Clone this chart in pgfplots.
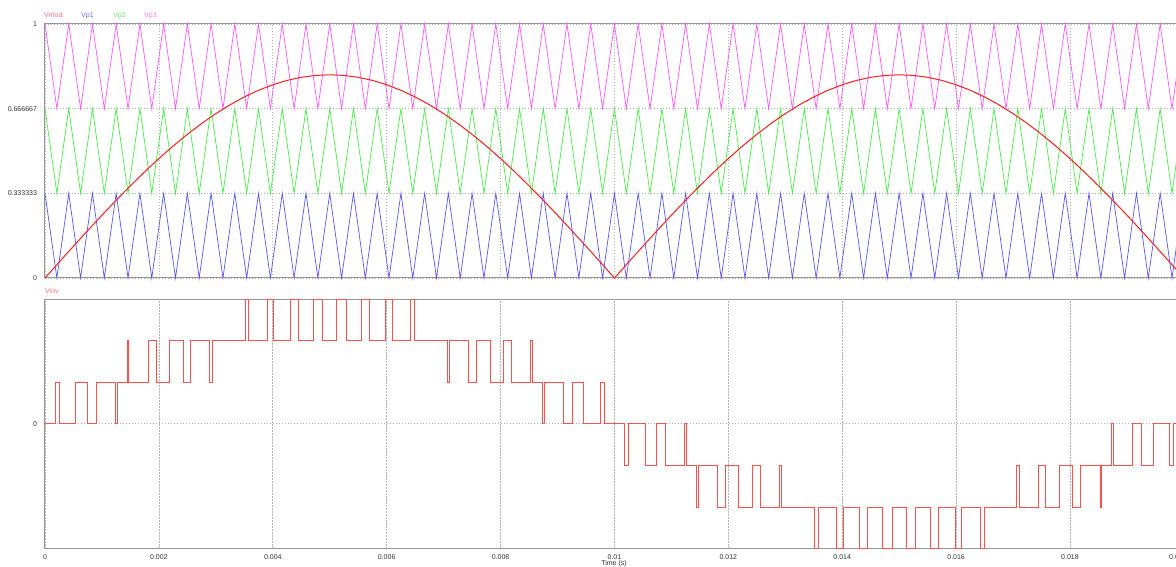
\documentclass[border=0pt]{standalone}
\usepackage{fontspec}
\setmainfont{Liberation Sans}
\usepackage{pgfplots}
\usepackage{pgfplotstable}
\pgfplotsset{compat=1.18}
\definecolor{cmod}{RGB}{255,30,30}
\definecolor{cp1}{RGB}{85,85,255}
\definecolor{cp2}{RGB}{70,235,70}
\definecolor{cp3}{RGB}{255,85,255}
\definecolor{cinv}{RGB}{255,80,80}
\definecolor{lmod}{RGB}{255,110,110}
\definecolor{lp1}{RGB}{110,110,255}
\definecolor{lp2}{RGB}{110,230,110}
\definecolor{lp3}{RGB}{255,120,255}
\definecolor{framec}{RGB}{150,150,150}
\definecolor{gridc}{RGB}{180,180,180}

\pgfplotstableread{
t p1 p2 p3
0 0.333333 0.666667 1
0.0002083 0 0.333333 0.666667
0.0004167 0.333333 0.666667 1
0.000625 0 0.333333 0.666667
0.0008333 0.333333 0.666667 1
0.0010417 0 0.333333 0.666667
0.00125 0.333333 0.666667 1
0.0014583 0 0.333333 0.666667
0.0016667 0.333333 0.666667 1
0.001875 0 0.333333 0.666667
0.0020833 0.333333 0.666667 1
0.0022917 0 0.333333 0.666667
0.0025 0.333333 0.666667 1
0.0027083 0 0.333333 0.666667
0.0029167 0.333333 0.666667 1
0.003125 0 0.333333 0.666667
0.0033333 0.333333 0.666667 1
0.0035417 0 0.333333 0.666667
0.00375 0.333333 0.666667 1
0.0039583 0 0.333333 0.666667
0.0041667 0.333333 0.666667 1
0.004375 0 0.333333 0.666667
0.0045833 0.333333 0.666667 1
0.0047917 0 0.333333 0.666667
0.005 0.333333 0.666667 1
0.0052083 0 0.333333 0.666667
0.0054167 0.333333 0.666667 1
0.005625 0 0.333333 0.666667
0.0058333 0.333333 0.666667 1
0.0060417 0 0.333333 0.666667
0.00625 0.333333 0.666667 1
0.0064583 0 0.333333 0.666667
0.0066667 0.333333 0.666667 1
0.006875 0 0.333333 0.666667
0.0070833 0.333333 0.666667 1
0.0072917 0 0.333333 0.666667
0.0075 0.333333 0.666667 1
0.0077083 0 0.333333 0.666667
0.0079167 0.333333 0.666667 1
0.008125 0 0.333333 0.666667
0.0083333 0.333333 0.666667 1
0.0085417 0 0.333333 0.666667
0.00875 0.333333 0.666667 1
0.0089583 0 0.333333 0.666667
0.0091667 0.333333 0.666667 1
0.009375 0 0.333333 0.666667
0.0095833 0.333333 0.666667 1
0.0097917 0 0.333333 0.666667
0.01 0.333333 0.666667 1
0.0102083 0 0.333333 0.666667
0.0104167 0.333333 0.666667 1
0.010625 0 0.333333 0.666667
0.0108333 0.333333 0.666667 1
0.0110417 0 0.333333 0.666667
0.01125 0.333333 0.666667 1
0.0114583 0 0.333333 0.666667
0.0116667 0.333333 0.666667 1
0.011875 0 0.333333 0.666667
0.0120833 0.333333 0.666667 1
0.0122917 0 0.333333 0.666667
0.0125 0.333333 0.666667 1
0.0127083 0 0.333333 0.666667
0.0129167 0.333333 0.666667 1
0.013125 0 0.333333 0.666667
0.0133333 0.333333 0.666667 1
0.0135417 0 0.333333 0.666667
0.01375 0.333333 0.666667 1
0.0139583 0 0.333333 0.666667
0.0141667 0.333333 0.666667 1
0.014375 0 0.333333 0.666667
0.0145833 0.333333 0.666667 1
0.0147917 0 0.333333 0.666667
0.015 0.333333 0.666667 1
0.0152083 0 0.333333 0.666667
0.0154167 0.333333 0.666667 1
0.015625 0 0.333333 0.666667
0.0158333 0.333333 0.666667 1
0.0160417 0 0.333333 0.666667
0.01625 0.333333 0.666667 1
0.0164583 0 0.333333 0.666667
0.0166667 0.333333 0.666667 1
0.016875 0 0.333333 0.666667
0.0170833 0.333333 0.666667 1
0.0172917 0 0.333333 0.666667
0.0175 0.333333 0.666667 1
0.0177083 0 0.333333 0.666667
0.0179167 0.333333 0.666667 1
0.018125 0 0.333333 0.666667
0.0183333 0.333333 0.666667 1
0.0185417 0 0.333333 0.666667
0.01875 0.333333 0.666667 1
0.0189583 0 0.333333 0.666667
0.0191667 0.333333 0.666667 1
0.019375 0 0.333333 0.666667
0.0195833 0.333333 0.666667 1
0.0197917 0 0.333333 0.666667
0.02 0.333333 0.666667 1
}\carriers

\pgfplotstableread{
t v
0 0
0.00025 0.0628
0.0005 0.1251
0.00075 0.1868
0.001 0.2472
0.00125 0.3062
0.0015 0.3632
0.00175 0.4180
0.002 0.4702
0.00225 0.5196
0.0025 0.5657
0.00275 0.6083
0.003 0.6472
0.00325 0.6821
0.0035 0.7128
0.00375 0.7391
0.004 0.7608
0.00425 0.7779
0.0045 0.7902
0.00475 0.7975
0.005 0.8
0.00525 0.7975
0.0055 0.7902
0.00575 0.7779
0.006 0.7608
0.00625 0.7391
0.0065 0.7128
0.00675 0.6821
0.007 0.6472
0.00725 0.6083
0.0075 0.5657
0.00775 0.5196
0.008 0.4702
0.00825 0.4180
0.0085 0.3632
0.00875 0.3062
0.009 0.2472
0.00925 0.1868
0.0095 0.1251
0.00975 0.0628
0.01 0
0.01025 0.0628
0.0105 0.1251
0.01075 0.1868
0.011 0.2472
0.01125 0.3062
0.0115 0.3632
0.01175 0.4180
0.012 0.4702
0.01225 0.5196
0.0125 0.5657
0.01275 0.6083
0.013 0.6472
0.01325 0.6821
0.0135 0.7128
0.01375 0.7391
0.014 0.7608
0.01425 0.7779
0.0145 0.7902
0.01475 0.7975
0.015 0.8
0.01525 0.7975
0.0155 0.7902
0.01575 0.7779
0.016 0.7608
0.01625 0.7391
0.0165 0.7128
0.01675 0.6821
0.017 0.6472
0.01725 0.6083
0.0175 0.5657
0.01775 0.5196
0.018 0.4702
0.01825 0.4180
0.0185 0.3632
0.01875 0.3062
0.019 0.2472
0.01925 0.1868
0.0195 0.1251
0.01975 0.0628
0.02 0
}\vmod

\pgfplotstableread{
t v
0 0
0.00018006 1
0.00024708 0
0.00054054 1
0.00074017 0
0.00090194 1
0.00123008 0
0.00126488 1
0.00144713 2
0.00147321 1
0.00181373 2
0.00195463 1
0.00218346 2
0.00242871 1
0.00255700 2
0.00289446 1
0.00293498 2
0.00351208 3
0.00357565 2
0.00390452 3
0.00401785 2
0.00430381 3
0.00445067 2
0.00471065 3
0.00487435 2
0.00512565 3
0.00528935 2
0.00554933 3
0.00569619 2
0.00598215 3
0.00609548 2
0.00642435 3
0.00648792 2
0.00706502 1
0.00710554 2
0.00744300 1
0.00757129 2
0.00781654 1
0.00804537 2
0.00818627 1
0.00852679 2
0.00855288 1
0.00873513 0
0.00876992 1
0.00909806 0
0.00925983 1
0.00945946 0
0.00975292 1
0.00981994 0
0.01018006 -1
0.01024708 0
0.01054054 -1
0.01074017 0
0.01090194 -1
0.01123008 0
0.01126488 -1
0.01144713 -2
0.01147321 -1
0.01181373 -2
0.01195463 -1
0.01218346 -2
0.01242871 -1
0.01255700 -2
0.01289446 -1
0.01293498 -2
0.01351208 -3
0.01357565 -2
0.01390452 -3
0.01401785 -2
0.01430381 -3
0.01445067 -2
0.01471065 -3
0.01487435 -2
0.01512565 -3
0.01528935 -2
0.01554933 -3
0.01569619 -2
0.01598215 -3
0.01609548 -2
0.01642435 -3
0.01648792 -2
0.01706502 -1
0.01710554 -2
0.01744300 -1
0.01757129 -2
0.01781654 -1
0.01804537 -2
0.01818627 -1
0.01852679 -2
0.01855288 -1
0.01873513 0
0.01876992 -1
0.01909806 0
0.01925983 -1
0.01945946 0
0.01975292 -1
0.01981994 0
0.02 0
}\vinv

\pgfplotsset{psim/.style={
  scale only axis, width=1138.9pt, xmin=0, xmax=0.02,
  xtick={0,0.002,0.004,0.006,0.008,0.01,0.012,0.014,0.016,0.018,0.02},
  scaled x ticks=false, scaled y ticks=false,
  major tick length=0pt,
  axis line style={framec, line width=1pt},
  grid=major,
  grid style={gridc, line width=0.7pt, dash pattern=on 1.2pt off 1.8pt},
  tick label style={font=\fontsize{7}{8}\selectfont, text=black!80},
  yticklabel style={xshift=-4.5pt},
  xticklabel style={yshift=-3pt},
  clip=false,
  anchor=south west,
}}

\begin{document}
\begin{tikzpicture}
\begin{axis}[psim, at={(45pt,288pt)}, height=254pt,
  ymin=0, ymax=1,
  ytick={0,0.333333,0.666667,1},
  yticklabels={0,0.333333,0.666667,1},
  xticklabels={,,,,,,,,,,}]
\addplot[cp1, line width=0.7pt] table[x=t, y=p1]{\carriers};
\addplot[cp2, line width=0.7pt] table[x=t, y=p2]{\carriers};
\addplot[cp3, line width=0.7pt] table[x=t, y=p3]{\carriers};
\addplot[cmod, line width=1pt] table[x=t, y=v]{\vmod};
\end{axis}
\begin{axis}[psim, at={(45pt,17.5pt)}, height=249.5pt,
  ymin=-3, ymax=3,
  ytick={0}, yticklabels={0},
  xticklabels={0,0.002,0.004,0.006,0.008,0.01,0.012,0.014,0.016,0.018,}]
\addplot[cinv, const plot, line width=0.8pt] table[x=t, y=v]{\vinv};
\end{axis}
\begin{scope}[every node/.style={inner sep=0pt, font=\fontsize{7}{8}\selectfont}]
\node[anchor=west, text=lmod] at (44pt,550.5pt) {Vmod};
\node[anchor=west, text=lp1] at (81pt,550.5pt) {Vp1};
\node[anchor=west, text=lp2] at (113pt,550.5pt) {Vp2};
\node[anchor=west, text=lp3] at (144pt,550.5pt) {Vp3};
\node[anchor=west, text=lmod] at (45pt,275pt) {Vinv};
\node[text=black!80] at (1176pt,8.5pt) {0.02};
\node[text=black!80] at (614pt,2.5pt) {Time (s)};
\end{scope}
\pgfresetboundingbox
\useasboundingbox (0pt,0pt) rectangle (1176pt,566pt);
\end{tikzpicture}
\end{document}
